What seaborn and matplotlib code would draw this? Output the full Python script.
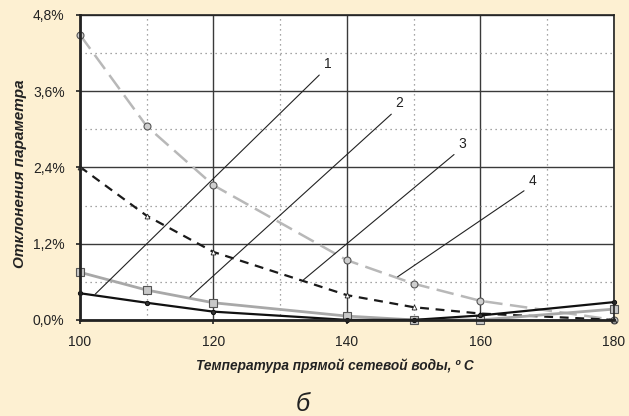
import numpy as np
import pandas as pd
import matplotlib
matplotlib.use("Agg")
import matplotlib.pyplot as plt
import seaborn as sns
from matplotlib.ticker import FuncFormatter, MultipleLocator

# temperatures of supply water and deviations, %
temps = [100, 110, 120, 140, 150, 160, 180]
dev1 = [0.42, 0.27, 0.13, 0.00, 0.00, 0.07, 0.28]
dev2 = [0.75, 0.47, 0.27, 0.06, 0.00, 0.00, 0.17]
dev3 = [2.41, 1.64, 1.07, 0.39, 0.20, 0.10, 0.00]
dev4 = [4.49, 3.05, 2.12, 0.94, 0.57, 0.30, 0.00]
curve_names = ["1", "2", "3", "4"]

sns.set_style("white")
plt.rcParams['font.family'] = ['Liberation Sans', 'DejaVu Sans']

df = pd.DataFrame({"t": temps, "1": dev1, "2": dev2, "3": dev3, "4": dev4})

fig = plt.figure(figsize=(6.29, 4.16), dpi=100)
fig.patch.set_facecolor("#fdf0d2")
ax = fig.add_axes([0.127, 0.231, 0.849, 0.733])
ax.set_facecolor("white")

# curve 4 - light grey dashed, circles
sns.lineplot(data=df, x="t", y="4", ax=ax, color="#b8b8b8", lw=1.8,
             marker="o", markersize=5, markerfacecolor="#cfcfcf",
             markeredgecolor="#555555", markeredgewidth=0.8, clip_on=False)
ax.lines[-1].set_dashes([7, 3])
# curve 3 - black dashed, triangles
sns.lineplot(data=df, x="t", y="3", ax=ax, color="#1a1a1a", lw=1.6,
             marker="^", markersize=3.5, markerfacecolor="white",
             markeredgecolor="#222222", markeredgewidth=0.6, clip_on=False)
ax.lines[-1].set_dashes([4, 3])
# curve 2 - grey solid, squares
sns.lineplot(data=df, x="t", y="2", ax=ax, color="#a8a8a8", lw=2,
             marker="s", markersize=5.5, markerfacecolor="#c8c8c8",
             markeredgecolor="#555555", markeredgewidth=0.8, clip_on=False)
# curve 1 - black solid, small dots
sns.lineplot(data=df, x="t", y="1", ax=ax, color="#111111", lw=1.6,
             marker="o", markersize=3, markerfacecolor="#333333",
             markeredgecolor="#111111", clip_on=False)

ax.set_xlim(100, 180)
ax.set_ylim(0, 4.8)
ax.xaxis.set_major_locator(MultipleLocator(20))
ax.xaxis.set_minor_locator(MultipleLocator(10))
ax.yaxis.set_major_locator(MultipleLocator(1.2))
ax.yaxis.set_minor_locator(MultipleLocator(0.6))
ax.yaxis.set_major_formatter(FuncFormatter(lambda v, p: f"{v:.1f}%".replace(".", ",")))

ax.grid(which="major", color="#3a3a3a", lw=1, ls="-")
ax.grid(which="minor", color="#888888", lw=0.9, ls=(0, (1, 3)))
ax.set_axisbelow(True)
for s in ax.spines.values():
    s.set_color("#222222")
    s.set_linewidth(1.2)
ax.spines["left"].set_linewidth(2)
ax.spines["bottom"].set_linewidth(2)

ax.tick_params(which="major", direction="out", length=3, width=1.2, color="#222222",
               labelsize=10, labelcolor="#222222", bottom=True, left=True)
ax.tick_params(which="minor", length=0)
ax.tick_params(axis="x", pad=8)
ax.tick_params(axis="y", pad=8)

ax.set_xlabel("Температура прямой сетевой воды, º С", fontsize=9.8, fontweight="bold",
              fontstyle="italic", color="#222222", va="center")
ax.xaxis.set_label_coords(0.477, -0.151)
ax.set_ylabel("Отклонения параметра", fontsize=11, fontweight="bold",
              fontstyle="italic", color="#222222", va="center")
ax.yaxis.set_label_coords(-0.112, 0.479)

# leader lines with curve numbers
series = [dev1, dev2, dev3, dev4]
label_pos = [(136.5, 3.92), (147.3, 3.30), (156.7, 2.66), (167.2, 2.08)]
target_t = [102.3, 116.5, 133.5, 147.6]
for name, vals, (lx, ly), tx in zip(curve_names, series, label_pos, target_t):
    ty = np.interp(tx, temps, vals) + 0.02
    ax.annotate(name, xy=(tx, ty), xytext=(lx, ly), fontsize=10, color="#222222",
                ha="left", va="bottom",
                arrowprops=dict(arrowstyle="-", color="#222222", lw=0.8,
                                relpos=(0, 0), shrinkA=1, shrinkB=0))

fig.text(0.482, 0.012, "б", fontsize=18, fontstyle="italic", ha="center",
         va="baseline", color="#222222")

fig.savefig("out.png", dpi=100, facecolor=fig.get_facecolor())
